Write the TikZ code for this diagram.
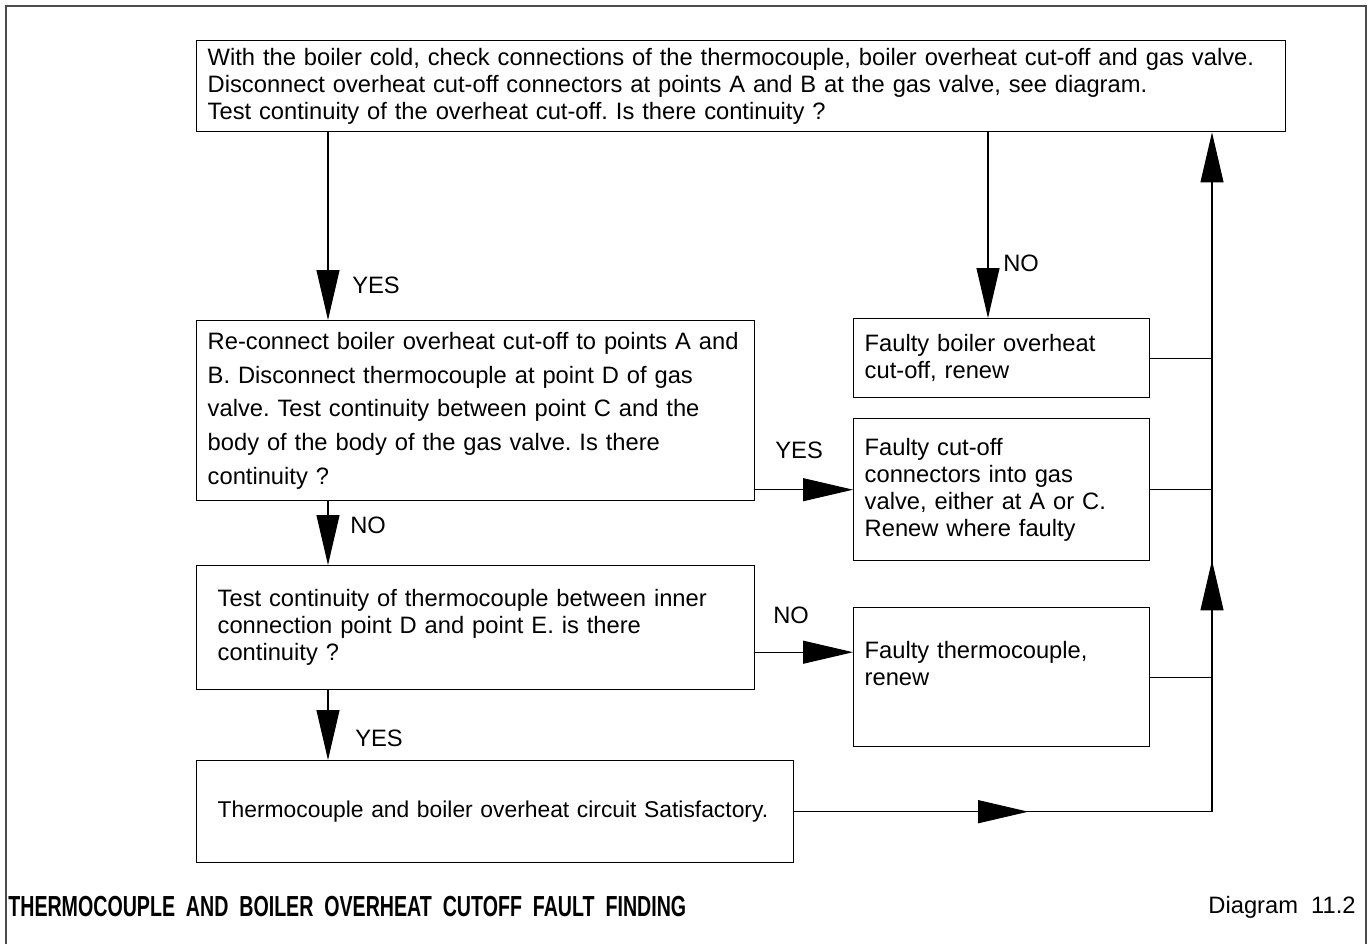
\documentclass[tikz,border=0pt]{standalone}
\usepackage{fontspec}
\setmainfont{Liberation Sans}
\usepackage{graphicx}
\usetikzlibrary{arrows.meta, calc, decorations.markings}

\tikzset{bigtip/.tip = {Triangle[length = 1cm, width = 0.46cm]}}
\tikzstyle{flowbox} = [
    rectangle,
    draw = black,
    line width = 0.8pt,
    anchor = north west,
    align = left,
    inner xsep = 0.22cm,
    inner ysep = 0cm,
    font = \fontsize{13.5}{15.4}\selectfont\frenchspacing,
]
\tikzstyle{answer} = [anchor = west, inner sep = 0pt, font = \fontsize{13.5}{15.4}\selectfont]
\tikzstyle{link} = [line width = 0.6pt]
\tikzstyle{linkarrow} = [line width = 0.6pt, -bigtip]
\tikzset{midtip/.style = {postaction = {decorate}, decoration = {markings, mark = at position #1 with {\arrow{bigtip}}}}}

\begin{document}
\begin{tikzpicture} [x = 0.02cm, y = -0.02cm]
    \useasboundingbox (0,0) rectangle (1372,944);
    \draw[line width = 1pt, black!70] (6,944) -- (6,6) -- (1366,6) -- (1366,944);

    \node (Check) [flowbox, text width = 21.34cm, minimum height = 1.82cm] at (196,40) {With the boiler cold, check connections of the thermocouple, boiler overheat cut-off and gas valve.\\Disconnect overheat cut-off connectors at points A and B at the gas valve, see diagram.\\Test continuity of the overheat cut-off. Is there continuity ?};
    \node (Reconnect) [flowbox, text width = 10.72cm, minimum height = 3.6cm, font = \fontsize{13.5}{19.2}\selectfont\frenchspacing] at (196,320) {Re-connect boiler overheat cut-off to points A and\\B. Disconnect thermocouple at point D of gas\\valve. Test continuity between point C and the\\body of the body of the gas valve. Is there\\continuity ?};
    \node (TestThermo) [flowbox, inner xsep = 0.42cm, text width = 10.32cm, minimum height = 2.48cm] at (196,565) {Test continuity of thermocouple between inner\\connection point D and point E. is there\\continuity ?};
    \node (Satisfactory) [flowbox, inner xsep = 0.42cm, text width = 11.10cm, minimum height = 2.04cm, font = \fontsize{13}{15.4}\selectfont] at (196,760) {Thermocouple and boiler overheat circuit Satisfactory.};

    \node (FaultyCutoff) [flowbox, text width = 5.48cm, minimum height = 1.58cm] at (853,318) {Faulty boiler overheat\\cut-off, renew};
    \node (FaultyConnectors) [flowbox, text width = 5.48cm, minimum height = 2.84cm] at (853,418) {Faulty cut-off\\connectors into gas\\valve, either at A or C.\\Renew where faulty};
    \node (FaultyThermo) [flowbox, text width = 5.48cm, minimum height = 2.78cm] at (853,607) {Faulty thermocouple,\\renew\\~};

    \coordinate (DownX) at (328,0);
    \coordinate (NoX) at (988,0);
    \coordinate (ReturnX) at (1212,0);

    % yes / no branches
    \draw[linkarrow] (Check.south -| DownX) -- (Reconnect.north -| DownX);
    \draw[linkarrow] (Check.south -| NoX) -- (FaultyCutoff.north -| NoX);
    \draw[linkarrow] (Reconnect.east |- FaultyConnectors.west) -- (FaultyConnectors.west);
    \draw[linkarrow] (Reconnect.south -| DownX) -- (TestThermo.north -| DownX);
    \coordinate (ThermoIn) at ([yshift = 0.5cm]FaultyThermo.west);
    \draw[linkarrow] (TestThermo.east |- ThermoIn) -- (ThermoIn);
    \draw[linkarrow] (TestThermo.south -| DownX) -- (Satisfactory.north -| DownX);

    \node (YesOne) [answer] at (352,285) {YES};
    \node (NoOne) [answer] at (1003,263) {NO};
    \node (YesTwo) [answer] at (775,450) {YES};
    \node (NoTwo) [answer] at (350,525) {NO};
    \node (NoThree) [answer] at (773,615) {NO};
    \node (YesThree) [answer] at (355,738) {YES};

    % return line
    \coordinate (Corner) at (Satisfactory.east -| ReturnX);
    \draw[link, midtip = 0.56] (Satisfactory.east) -- (Corner);
    \draw[linkarrow, midtip = 0.37] (Corner) -- (Check.south -| ReturnX);
    \draw[link] (FaultyCutoff.east) -- (FaultyCutoff.east -| ReturnX);
    \draw[link] (FaultyConnectors.east) -- (FaultyConnectors.east -| ReturnX);
    \draw[link] (FaultyThermo.east) -- (FaultyThermo.east -| ReturnX);

    \node (Title) [anchor = west, inner sep = 0pt, font = \bfseries\fontsize{16.5}{18}\selectfont] at (8,907) {\resizebox{13.56cm}{\height}{THERMOCOUPLE\ \ AND\ \ BOILER\ \ OVERHEAT\ \ CUTOFF\ \ FAULT\ \ FINDING}};
    \node (DiagramNo) [anchor = east, inner sep = 0pt, font = \fontsize{13.5}{15.4}\selectfont] at (1356,907) {Diagram\ \ 11.2};
\end{tikzpicture}
\end{document}
